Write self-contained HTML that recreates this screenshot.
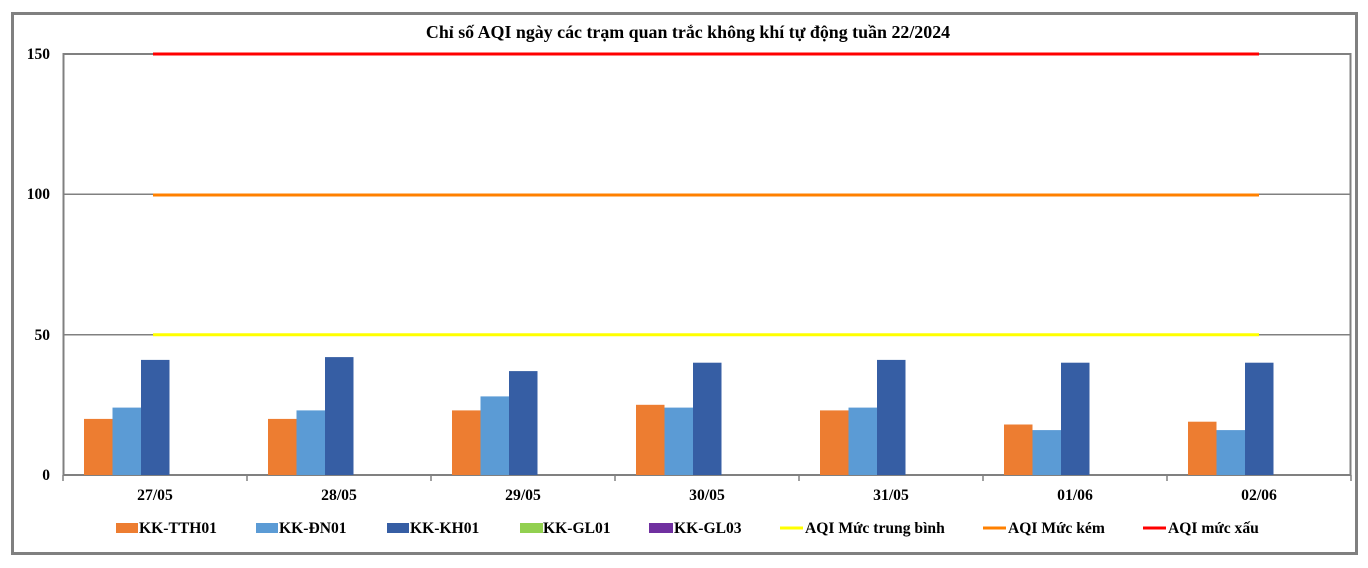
<!DOCTYPE html>
<html><head><meta charset="utf-8"><style>
body{margin:0;background:#fff}
svg text{font-family:"Liberation Serif",serif;font-weight:bold;fill:#000}
</style></head><body>
<svg width="1368" height="563" xmlns="http://www.w3.org/2000/svg">
<rect x="12.5" y="13.5" width="1344" height="540" fill="#fff" stroke="#808080" stroke-width="3"/>
<text x="688" y="38" font-size="17.9" text-anchor="middle">Chỉ số AQI ngày các trạm quan trắc không khí tự động tuần 22/2024</text>
<g stroke="#808080" stroke-width="1.5">
<line x1="63" y1="194.3" x2="1350" y2="194.3"/>
<line x1="63" y1="334.7" x2="1350" y2="334.7"/>
</g>
<rect x="63.5" y="54" width="1287" height="421" fill="none" stroke="#808080" stroke-width="2"/>
<g stroke="#808080" stroke-width="1.5">
<line x1="63" y1="475" x2="63" y2="481"/><line x1="247" y1="475" x2="247" y2="481"/><line x1="431" y1="475" x2="431" y2="481"/><line x1="615" y1="475" x2="615" y2="481"/><line x1="799" y1="475" x2="799" y2="481"/><line x1="983" y1="475" x2="983" y2="481"/><line x1="1167" y1="475" x2="1167" y2="481"/><line x1="1351" y1="475" x2="1351" y2="481"/>
</g>
<g font-size="15.5" text-anchor="end">
<text x="50" y="59">150</text><text x="50" y="199">100</text><text x="50" y="340">50</text><text x="50" y="480">0</text>
</g>
<g font-size="15.7" text-anchor="middle">
<text x="155" y="500">27/05</text><text x="339" y="500">28/05</text><text x="523" y="500">29/05</text><text x="707" y="500">30/05</text><text x="891" y="500">31/05</text><text x="1075" y="500">01/06</text><text x="1259" y="500">02/06</text>
</g>
<line x1="153" y1="334.7" x2="1259" y2="334.7" stroke="#ffff00" stroke-width="3"/>
<line x1="153" y1="195" x2="1259" y2="195" stroke="#ff8000" stroke-width="3"/>
<line x1="153" y1="54" x2="1259" y2="54" stroke="#ff0000" stroke-width="3"/>
<g font-size="15.6">
<rect x="116" y="523" width="22" height="10" fill="#ed7d31"/><text x="139" y="533">KK-TTH01</text>
<rect x="256" y="523" width="22" height="10" fill="#5b9bd5"/><text x="279" y="533">KK-ĐN01</text>
<rect x="387" y="523" width="22" height="10" fill="#365ea4"/><text x="410" y="533">KK-KH01</text>
<rect x="520" y="523" width="23" height="10" fill="#92d050"/><text x="543" y="533">KK-GL01</text>
<rect x="649" y="523" width="24" height="10" fill="#7030a0"/><text x="674" y="533">KK-GL03</text>
<line x1="780" y1="528" x2="803" y2="528" stroke="#ffff00" stroke-width="3"/><text x="805" y="533">AQI Mức trung bình</text>
<line x1="983" y1="528" x2="1006" y2="528" stroke="#ff8000" stroke-width="3"/><text x="1008" y="533">AQI Mức kém</text>
<line x1="1143" y1="528" x2="1166" y2="528" stroke="#ff0000" stroke-width="3"/><text x="1168" y="533">AQI mức xấu</text>
</g>
<g>
<rect x="84" y="418.9" width="28.5" height="56.1" fill="#ed7d31"/><rect x="112.5" y="407.6" width="28.5" height="67.4" fill="#5b9bd5"/><rect x="141" y="359.9" width="28.5" height="115.1" fill="#365ea4"/>
<rect x="268" y="418.9" width="28.5" height="56.1" fill="#ed7d31"/><rect x="296.5" y="410.4" width="28.5" height="64.6" fill="#5b9bd5"/><rect x="325" y="357.1" width="28.5" height="117.9" fill="#365ea4"/>
<rect x="452" y="410.4" width="28.5" height="64.6" fill="#ed7d31"/><rect x="480.5" y="396.4" width="28.5" height="78.6" fill="#5b9bd5"/><rect x="509" y="371.1" width="28.5" height="103.9" fill="#365ea4"/>
<rect x="636" y="404.8" width="28.5" height="70.2" fill="#ed7d31"/><rect x="664.5" y="407.6" width="28.5" height="67.4" fill="#5b9bd5"/><rect x="693" y="362.7" width="28.5" height="112.3" fill="#365ea4"/>
<rect x="820" y="410.4" width="28.5" height="64.6" fill="#ed7d31"/><rect x="848.5" y="407.6" width="28.5" height="67.4" fill="#5b9bd5"/><rect x="877" y="359.9" width="28.5" height="115.1" fill="#365ea4"/>
<rect x="1004" y="424.5" width="28.5" height="50.5" fill="#ed7d31"/><rect x="1032.5" y="430.1" width="28.5" height="44.9" fill="#5b9bd5"/><rect x="1061" y="362.7" width="28.5" height="112.3" fill="#365ea4"/>
<rect x="1188" y="421.7" width="28.5" height="53.3" fill="#ed7d31"/><rect x="1216.5" y="430.1" width="28.5" height="44.9" fill="#5b9bd5"/><rect x="1245" y="362.7" width="28.5" height="112.3" fill="#365ea4"/>
</g>
</svg>
</body></html>
